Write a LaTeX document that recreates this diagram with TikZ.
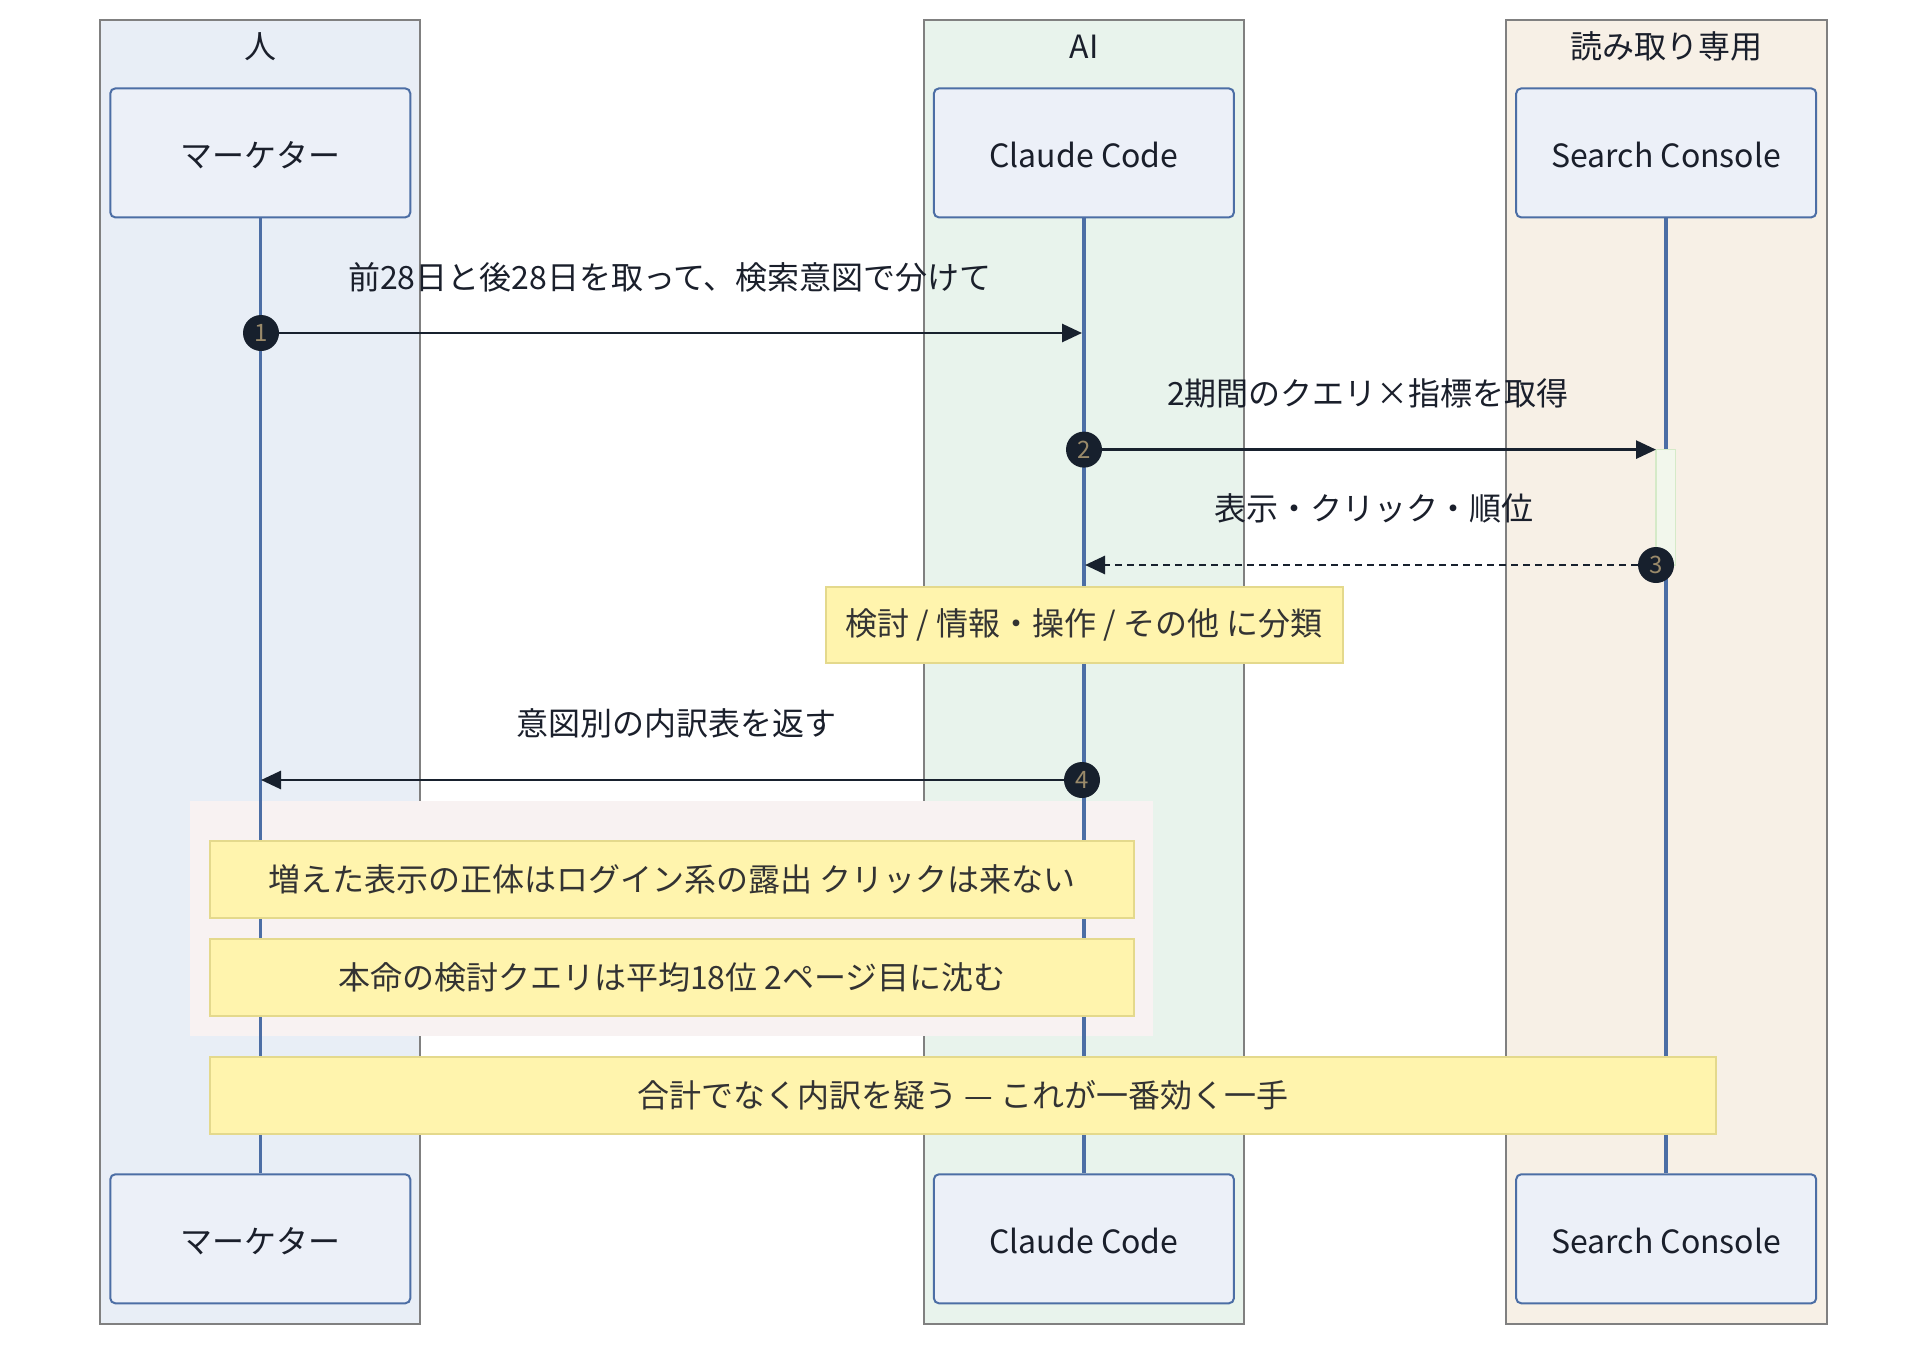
\documentclass[tikz,border=0pt]{standalone}
\usepackage{fontspec}
\setmainfont{Noto Sans CJK JP}
\usetikzlibrary{arrows.meta}
\definecolor{grpborder}{HTML}{808080}
\definecolor{gfillA}{HTML}{E8EEF6}
\definecolor{gfillB}{HTML}{E8F3EC}
\definecolor{gfillC}{HTML}{F7F0E6}
\definecolor{actorborder}{HTML}{4C6EA5}
\definecolor{actorfill}{HTML}{ECF0F8}
\definecolor{lifecol}{HTML}{4C6EA5}
\definecolor{msgcol}{HTML}{18212E}
\definecolor{numfill}{HTML}{17202D}
\definecolor{numtext}{HTML}{9A8A6A}
\definecolor{notefill}{HTML}{FFF4AD}
\definecolor{noteborder}{HTML}{E4D98C}
\definecolor{notetext}{HTML}{333333}
\definecolor{pinkbg}{HTML}{F8F2F2}
\definecolor{actfill}{HTML}{F2F7EC}
\definecolor{actborder}{HTML}{D5EAC8}
\definecolor{txt}{HTML}{1A1F2B}
\newcommand{\bigf}{\fontsize{32}{38}\selectfont}
\begin{document}
\begin{tikzpicture}[x=1pt,y=-1pt,
  grp/.style={draw=grpborder, line width=2pt},
  grptitle/.style={font=\bigf, text=txt, inner sep=0pt},
  actor/.style={draw=actorborder, fill=actorfill, line width=2pt, rounded corners=5pt,
    minimum width=300pt, minimum height=129pt, font=\bigf, text=txt, inner sep=0pt,
    text height=31pt, text depth=2pt},
  life/.style={draw=lifecol, line width=3.5pt},
  msg/.style={draw=msgcol, line width=2.8pt, -{Triangle[length=20pt,width=18pt]}},
  dmsg/.style={msg, dash pattern=on 7pt off 5pt},
  lbl/.style={font=\bigf, text=txt, inner sep=0pt},
  num/.style={circle, fill=numfill, minimum size=36pt, inner sep=0pt, text=numtext,
    font=\fontsize{24}{24}\selectfont},
  note/.style={draw=noteborder, fill=notefill, line width=2pt, font=\bigf, text=notetext,
    inner sep=0pt, minimum height=77pt},
  act/.style={draw=actborder, fill=actfill, line width=1.5pt}
]
\useasboundingbox (0,0) rectangle (1926,1346);
% groups
\path[grp, fill=gfillA] (99.5,19.7) rectangle (420,1324);
\path[grp, fill=gfillB] (923.7,19.7) rectangle (1244,1324);
\path[grp, fill=gfillC] (1506,19.7) rectangle (1826.5,1324);
\node[grptitle] (g1) at (260,46.7) {人};
\node[grptitle] (g2) at (1084,46.7) {AI};
\node[grptitle] (g3) at (1666,46.7) {読み取り専用};
% pink rect
\fill[pinkbg] (190.4,800.9) rectangle (1153.4,1035.5);
% actors
\node[actor] (a1) at (260.3,152.9) {マーケター};
\node[actor] (a2) at (1083.9,152.9) {Claude Code};
\node[actor] (a3) at (1666.2,152.9) {Search Console};
\node[actor] (b1) at (260.3,1238.8) {マーケター};
\node[actor] (b2) at (1083.9,1238.8) {Claude Code};
\node[actor] (b3) at (1666.2,1238.8) {Search Console};
% lifelines
\draw[life] (a1.south) -- (b1.north);
\draw[life] (a2.south) -- (b2.north);
\draw[life] (a3.south) -- (b3.north);
% activation
\path[act] (1655.8,449.6) rectangle (1675.4,565);
% message 1
\node[num] (c1) at (261,333) {1};
\coordinate (e1) at (1082,333);
\draw[msg] (c1) -- (e1);
\node[lbl] (l1) at (670,277.6) {前28日と後28日を取って、検索意図で分けて};
% message 2
\node[num] (c2) at (1084,449.6) {2};
\coordinate (e2) at (1656,449.6);
\draw[msg] (c2) -- (e2);
\node[lbl] (l2) at (1368,393) {2期間のクエリ×指標を取得};
% message 3
\node[num] (c3) at (1656,565) {3};
\coordinate (e3) at (1085,565);
\draw[dmsg] (c3) -- (e3);
\node[lbl] (l3) at (1374,508.5) {表示・クリック・順位};
% note
\node[note, minimum width=517pt, minimum height=76pt] (n0) at (1084,625) {検討 / 情報・操作 / その他 に分類};
% message 4
\node[num] (c4) at (1082,780) {4};
\coordinate (e4) at (261,780);
\draw[msg] (c4) -- (e4);
\node[lbl] (l4) at (676,723.5) {意図別の内訳表を返す};
% notes
\node[note, minimum width=923.7pt] (na) at (671.9,879) {増えた表示の正体はログイン系の露出 クリックは来ない};
\node[note, minimum width=923.7pt] (nb) at (671.9,977) {本命の検討クエリは平均18位 2ページ目に沈む};
\node[note, minimum width=1506pt] (nc) at (963,1095) {合計でなく内訳を疑う — これが一番効く一手};
\end{tikzpicture}
\end{document}
